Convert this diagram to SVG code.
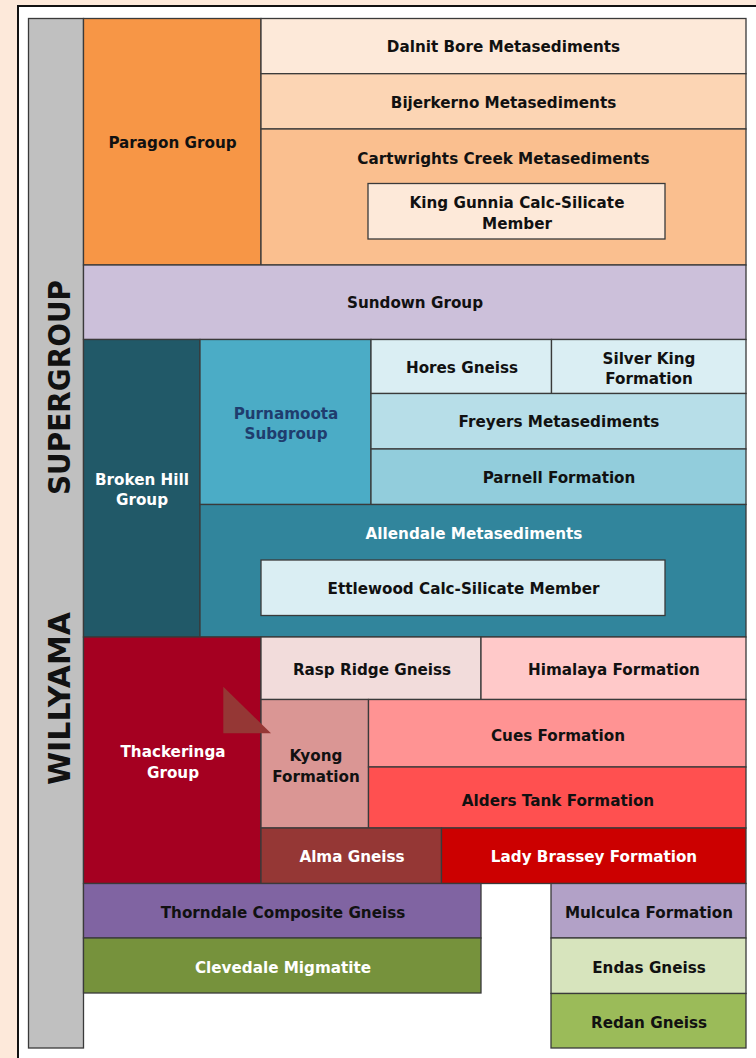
<svg xmlns="http://www.w3.org/2000/svg" width="756" height="1058" viewBox="0 0 756 1058">
<style>
.b{stroke:#3a3a3a;stroke-width:1.3}
text{font-family:"DejaVu Sans","Verdana",sans-serif;font-weight:bold;font-size:15.2px;text-anchor:middle;fill:#111}
.w{fill:#ffffff}
.nb{fill:#1f3d6e}
.big{font-size:31px;text-anchor:start;fill:#111}
</style>
<rect x="0" y="0" width="756" height="1058" fill="#fde9da"/>
<rect x="18" y="6" width="760" height="1070" fill="#ffffff" stroke="#111" stroke-width="2"/>

<g id="willyama">
<rect class="b" x="28.5" y="18.5" width="55" height="1029.5" fill="#c0c0c0"/>
<text class="big" transform="translate(70,785) rotate(-90)" textLength="173" lengthAdjust="spacingAndGlyphs">WILLYAMA</text>
<text class="big" transform="translate(70,495) rotate(-90)" textLength="215" lengthAdjust="spacingAndGlyphs">SUPERGROUP</text>
</g>

<g id="paragon">
<rect class="b" x="83.5" y="18.5" width="177.5" height="246.5" fill="#f79646"/>
<text x="172.5" y="148">Paragon Group</text>
</g>
<g id="dalnit">
<rect class="b" x="261" y="18.5" width="485" height="55.2" fill="#fde9d9"/>
<text x="503.5" y="51.5">Dalnit Bore Metasediments</text>
</g>
<g id="bijerkerno">
<rect class="b" x="261" y="73.7" width="485" height="55.3" fill="#fcd5b4"/>
<text x="503.5" y="107.5">Bijerkerno Metasediments</text>
</g>
<g id="cartwrights">
<rect class="b" x="261" y="129" width="485" height="136" fill="#fabf8f"/>
<text x="503.5" y="163.5">Cartwrights Creek Metasediments</text>
</g>
<g id="kinggunnia">
<rect class="b" x="368" y="183.5" width="297" height="55.5" fill="#fde9d9"/>
<text x="517" y="208">King Gunnia Calc-Silicate</text>
<text x="517" y="228.5">Member</text>
</g>

<g id="sundown">
<rect class="b" x="83.5" y="265" width="662.5" height="74.5" fill="#ccc0da"/>
<text x="415" y="308">Sundown Group</text>
</g>

<g id="brokenhill">
<rect class="b" x="83.5" y="339.5" width="116.5" height="297.5" fill="#215968"/>
<text class="w" x="142" y="484.5">Broken Hill</text>
<text class="w" x="142" y="505">Group</text>
</g>
<g id="purnamoota">
<rect class="b" x="200" y="339.5" width="171" height="165" fill="#4bacc6"/>
<text class="nb" x="286" y="418.5">Purnamoota</text>
<text class="nb" x="286" y="439">Subgroup</text>
</g>
<g id="hores">
<rect class="b" x="371" y="339.5" width="180.5" height="54" fill="#daeef3"/>
<text x="462" y="372.5">Hores Gneiss</text>
</g>
<g id="silverking">
<rect class="b" x="551.5" y="339.5" width="194.5" height="54" fill="#daeef3"/>
<text x="649" y="363.5">Silver King</text>
<text x="649" y="384">Formation</text>
</g>
<g id="freyers">
<rect class="b" x="371" y="393.5" width="375" height="55.5" fill="#b7dee8"/>
<text x="559" y="427">Freyers Metasediments</text>
</g>
<g id="parnell">
<rect class="b" x="371" y="449" width="375" height="55.5" fill="#92cddc"/>
<text x="559" y="482.5">Parnell Formation</text>
</g>
<g id="allendale">
<rect class="b" x="200" y="504.5" width="546" height="132.5" fill="#31859c"/>
<text class="w" x="474" y="538.5">Allendale Metasediments</text>
</g>
<g id="ettlewood">
<rect class="b" x="261" y="560" width="404" height="55.5" fill="#daeef3"/>
<text x="463.5" y="593.5">Ettlewood Calc-Silicate Member</text>
</g>

<g id="thackeringa">
<rect class="b" x="83.5" y="637" width="177.5" height="246.5" fill="#a50021"/>
<text class="w" x="173" y="757">Thackeringa</text>
<text class="w" x="173" y="777.5">Group</text>
</g>
<g id="raspridge">
<rect class="b" x="261" y="637" width="220" height="62.5" fill="#f2dcdb"/>
<text x="372" y="675">Rasp Ridge Gneiss</text>
</g>
<g id="himalaya">
<rect class="b" x="481" y="637" width="265" height="62.5" fill="#ffc9c9"/>
<text x="614" y="675">Himalaya Formation</text>
</g>
<g id="kyong">
<rect class="b" x="261" y="699.5" width="107.5" height="128.5" fill="#da9694"/>
<text x="316" y="761">Kyong</text>
<text x="316" y="781.5">Formation</text>
</g>
<g id="cues">
<rect class="b" x="368.5" y="699.5" width="377.5" height="67.5" fill="#ff9393"/>
<text x="558" y="740.5">Cues Formation</text>
</g>
<g id="alderstank">
<rect class="b" x="368.5" y="767" width="377.5" height="61" fill="#ff5050"/>
<text x="558" y="805.5">Alders Tank Formation</text>
</g>
<g id="alma">
<rect class="b" x="261" y="828" width="180.5" height="55.5" fill="#953735"/>
<text class="w" x="352" y="862">Alma Gneiss</text>
</g>
<g id="ladybrassey">
<rect class="b" x="441.5" y="828" width="304.5" height="55.5" fill="#cc0000"/>
<text class="w" x="594" y="862">Lady Brassey Formation</text>
</g>
<g id="marker-triangle">
<polygon points="223.3,686.7 223.3,733.3 271,733.3" fill="#953735"/>
</g>

<g id="thorndale">
<rect class="b" x="83.5" y="883.5" width="397.5" height="54.5" fill="#8064a2"/>
<text x="283" y="917.5">Thorndale Composite Gneiss</text>
</g>
<g id="clevedale">
<rect class="b" x="83.5" y="938" width="397.5" height="55" fill="#76923c"/>
<text class="w" x="283" y="972.5">Clevedale Migmatite</text>
</g>
<g id="mulculca">
<rect class="b" x="551" y="883.5" width="195" height="54.5" fill="#b2a1c7"/>
<text x="649" y="917.5">Mulculca Formation</text>
</g>
<g id="endas">
<rect class="b" x="551" y="938" width="195" height="55.5" fill="#d7e4bd"/>
<text x="649" y="972.5">Endas Gneiss</text>
</g>
<g id="redan">
<rect class="b" x="551" y="993.5" width="195" height="54.5" fill="#9bbb59"/>
<text x="649" y="1027.5">Redan Gneiss</text>
</g>

<g id="connectors"></g>
</svg>
